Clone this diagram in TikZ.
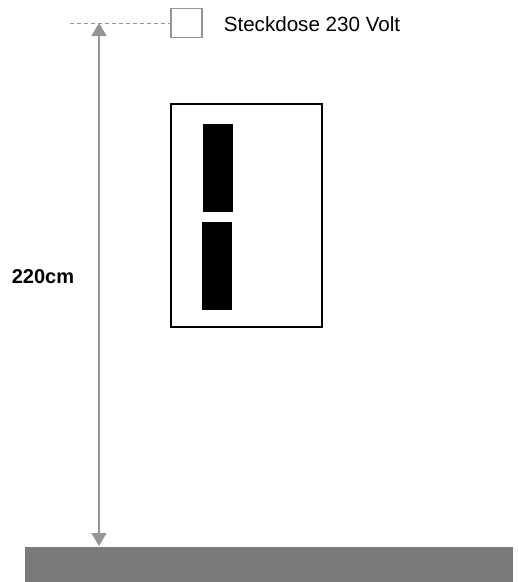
\documentclass[tikz,border=0pt]{standalone}
\usepackage{fontspec}
\setmainfont{Liberation Sans}
\usetikzlibrary{arrows.meta, positioning}
\definecolor{dimgray}{HTML}{959595}
\definecolor{floorgray}{HTML}{7A7A7A}

\begin{document}
\begin{tikzpicture}[
            x = 1pt, y = -1pt, % pixel grid, y downwards
            > = {Triangle[width=15pt,length=13pt]}, % arrow head style
            line width = 1.6pt
        ]

        \tikzset{
            socket/.style = {
                draw = dimgray,
                line width = 1.6pt,
                minimum width = 31pt,
                minimum height = 29pt,
                inner sep = 0pt
            },
            frame/.style = {
                draw = black,
                line width = 2pt,
                minimum width = 151pt,
                minimum height = 223pt,
                inner sep = 0pt
            },
            bar/.style = {
                fill = black,
                minimum width = 30pt,
                minimum height = 88pt,
                inner sep = 0pt
            },
            label/.style = {
                font = \fontsize{20.6}{24}\selectfont,
                inner sep = 0pt
            }
        }

        \useasboundingbox (0,0) rectangle (518,582);

        % floor
        \fill[floorgray] (25,547) rectangle (513,582);

        \node[socket] (socket) at (186.5,23) {};
        \node[label, anchor=west] (socketlabel) at (223,24) {Steckdose 230 Volt};

        \node[frame] (frame) at (246,215) {};
        \node[bar] (upper) at (218,168) {};
        \node[bar] (lower) at (216.5,266) {};

        \coordinate (top) at (99,23);
        \coordinate (bottom) at (99,546);
        \coordinate (start) at (70,23);

        \draw[dimgray, dashed, line width=1pt, dash pattern=on 4pt off 3pt] (start) -- (socket.west);
        \draw[dimgray, <->] (top) -- (bottom);

        \node[label, font=\fontsize{20}{24}\selectfont\bfseries, anchor=west] (height) at (11,277) {220cm};
    \end{tikzpicture}
\end{document}
